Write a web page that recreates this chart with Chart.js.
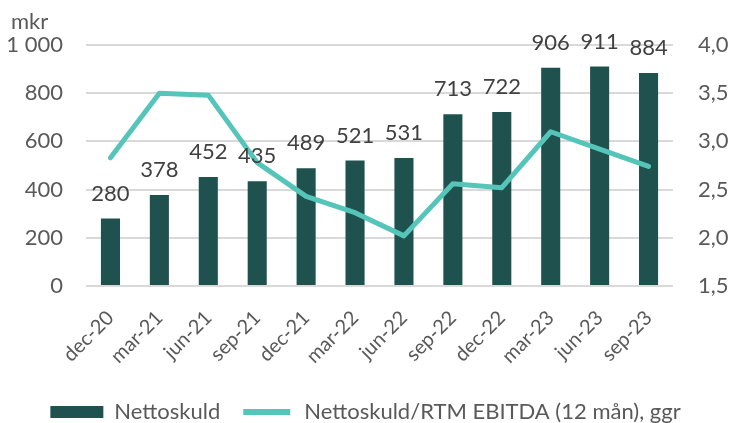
<!DOCTYPE html>
<html>
<head>
<meta charset="utf-8">
<script src="https://cdn.jsdelivr.net/npm/chart.js@4/dist/chart.umd.min.js"></script>
<style>
  html, body { margin: 0; padding: 0; background: #fff; }
  #wrap { width: 731px; height: 423px; }
</style>
</head>
<body>
<div id="wrap"><canvas id="debtChart"></canvas></div>
<script>
  // Nettoskuld (mkr) and Nettoskuld/RTM EBITDA per quarter
  var quarters = ['dec-20', 'mar-21', 'jun-21', 'sep-21', 'dec-21', 'mar-22',
    'jun-22', 'sep-22', 'dec-22', 'mar-23', 'jun-23', 'sep-23'];
  var netDebt = [280, 378, 452, 435, 489, 521, 531, 713, 722, 906, 911, 884];
  var debtRatio = [2.83, 3.50, 3.48, 2.78, 2.43, 2.26, 2.02, 2.56, 2.52, 3.10, 2.92, 2.74];
  var leftTicks = [0, 200, 400, 600, 800, 1000];
  var rightTicks = [1.5, 2.0, 2.5, 3.0, 3.5, 4.0];

  var FONT = 'Lato, "Open Sans", sans-serif';
  var barColor = '#1f524f';
  var lineColor = '#56c5b9';

  // value labels above the bars + the "mkr" unit text
  var barLabels = {
    id: 'barLabels',
    afterDatasetsDraw: function (chart) {
      var meta = chart.getDatasetMeta(0);
      var c = chart.ctx;
      c.save();
      c.font = '22px ' + FONT;
      c.fillStyle = '#404040';
      c.textAlign = 'center';
      c.textBaseline = 'middle';
      meta.data.forEach(function (bar, i) {
        c.fillText(String(netDebt[i]), bar.x, bar.y - 25);
      });
      c.fillStyle = '#595959';
      c.textAlign = 'left';
      c.fillText('mkr', 11, 22);
      c.restore();
    }
  };

  new Chart(document.getElementById('debtChart'), {
    data: {
      labels: quarters,
      datasets: [
        {
          type: 'bar',
          label: 'Nettoskuld',
          data: netDebt,
          backgroundColor: barColor,
          yAxisID: 'y',
          order: 1,
          barPercentage: 0.39,
          categoryPercentage: 1
        },
        {
          type: 'line',
          label: 'Nettoskuld/RTM EBITDA (12 mån), ggr',
          data: debtRatio,
          borderColor: lineColor,
          backgroundColor: lineColor,
          borderWidth: 5,
          borderCapStyle: 'round',
          borderJoinStyle: 'round',
          pointRadius: 0,
          tension: 0,
          yAxisID: 'y1',
          order: 0
        }
      ]
    },
    options: {
      responsive: true,
      maintainAspectRatio: false,
      animation: false,
      layout: { padding: { left: 0, right: 0, top: 45, bottom: -10 } },
      plugins: {
        legend: {
          position: 'bottom',
          labels: {
            color: '#595959',
            font: { family: FONT, size: 22 },
            boxWidth: 53,
            boxHeight: 12,
            padding: 20,
            sort: function (a, b) { return a.datasetIndex - b.datasetIndex; },
            generateLabels: function (chart) {
              var items = Chart.defaults.plugins.legend.labels.generateLabels(chart);
              items.forEach(function (it) {
                if (it.datasetIndex === 1) {
                  it.fillStyle = lineColor;
                  it.strokeStyle = '#ffffff';
                  it.lineWidth = 6;
                } else {
                  it.lineWidth = 0;
                }
              });
              return items;
            }
          }
        },
        tooltip: { enabled: false }
      },
      scales: {
        x: {
          grid: { display: false },
          border: { display: false },
          afterFit: function (axis) { axis.height = 95; },
          ticks: {
            color: '#595959',
            font: { family: FONT, size: 20 },
            minRotation: 45,
            maxRotation: 45,
            padding: 12
          }
        },
        y: {
          position: 'left',
          min: 0,
          max: 1000,
          afterBuildTicks: function (axis) {
            axis.ticks = leftTicks.map(function (v) { return { value: v }; });
          },
          afterFit: function (axis) { axis.width = 86; },
          grid: { color: '#d9d9d9', lineWidth: 2, drawTicks: false },
          border: { display: false },
          ticks: {
            color: '#595959',
            font: { family: FONT, size: 22 },
            padding: 23,
            callback: function (v) { return v === 1000 ? '1 000' : String(v); }
          }
        },
        y1: {
          position: 'right',
          min: 1.5,
          max: 4.0,
          afterBuildTicks: function (axis) {
            axis.ticks = rightTicks.map(function (v) { return { value: v }; });
          },
          afterFit: function (axis) { axis.width = 58; },
          grid: { display: false, drawTicks: false },
          border: { display: false },
          ticks: {
            color: '#595959',
            font: { family: FONT, size: 22 },
            padding: 25,
            callback: function (v) { return v.toFixed(1).replace('.', ','); }
          }
        }
      }
    },
    plugins: [barLabels]
  });
</script>
</body>
</html>
